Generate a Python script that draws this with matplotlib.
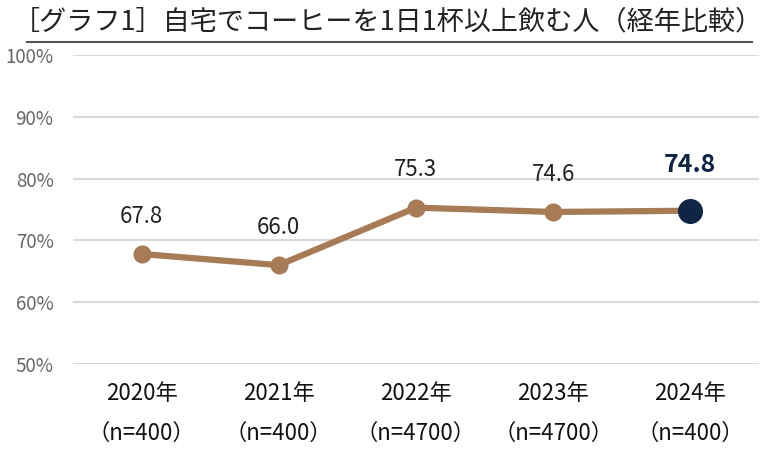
import matplotlib.pyplot as plt

plt.rcParams['font.family'] = ['Noto Sans CJK JP', 'DejaVu Sans']

years = ['2020年', '2021年', '2022年', '2023年', '2024年']
samples = ['（n=400）', '（n=400）', '（n=4700）', '（n=4700）', '（n=400）']
values = [67.8, 66.0, 75.3, 74.6, 74.8]

brown = '#A67B56'
navy = '#0E2545'

fig = plt.figure(figsize=(7.65, 4.58), dpi=100)
ax = fig.add_axes([0.0954, 0.2052, 0.8966, 0.6748])

x = list(range(len(values)))
ax.plot(x, values, color=brown, linewidth=4.5, marker='o', markersize=12,
        markerfacecolor=brown, markeredgecolor=brown, zorder=3)
ax.plot(x[-1], values[-1], marker='o', markersize=17, color=navy, zorder=4)

for i, v in enumerate(values):
    if i == len(values) - 1:
        ax.annotate(f'{v:.1f}', (i, v), xytext=(0, 24), textcoords='offset points',
                    ha='center', va='bottom', fontsize=18, fontweight='bold', color=navy)
    else:
        ax.annotate(f'{v:.1f}', (i, v), xytext=(0, 19), textcoords='offset points',
                    ha='center', va='bottom', fontsize=16, color='#222222')

ax.set_xlim(-0.5, len(values) - 0.5)
ax.set_ylim(50, 100)
ax.set_yticks(range(50, 101, 10))
ax.set_yticklabels([f'{t}%' for t in range(50, 101, 10)])
ax.set_xticks(x)
ax.set_xticklabels([f'{y}\n{s}' for y, s in zip(years, samples)], linespacing=1.95)
ax.tick_params(axis='x', length=0, pad=13, labelsize=16, labelcolor='#111111')
ax.tick_params(axis='y', length=0, pad=14, labelsize=13.5, labelcolor='#666666')
ax.grid(axis='y', color='#D9D9D9', linewidth=1.5)
ax.set_axisbelow(True)
for s in ax.spines.values():
    s.set_visible(False)

fig.text(0.507, 0.953, '［グラフ1］自宅でコーヒーを1日1杯以上飲む人（経年比較）',
         ha='center', va='center', fontsize=19.5, color='#222222')
fig.add_artist(plt.Line2D([0.035, 0.983], [0.908, 0.908], color='#555555', linewidth=1.5))

plt.savefig('out.png', dpi=100)
